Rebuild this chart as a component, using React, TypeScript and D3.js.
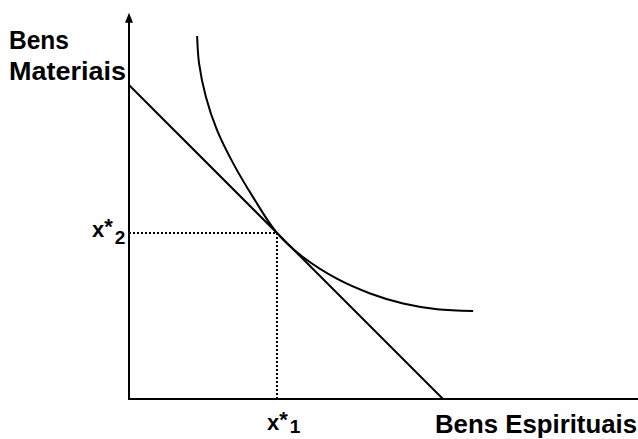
import React, { useEffect, useRef } from 'react';
import * as d3 from 'd3';

// budget line: intercepts on both axes
const budgetLine = [
  { x: 0, y: 10 },
  { x: 10, y: 0 },
];

// indifference curve
const indifference = [
  { x: 2.17, y: 11.56 },
  { x: 2.23, y: 10.7 },
  { x: 2.45, y: 9.62 },
  { x: 2.8, y: 8.57 },
  { x: 3.31, y: 7.52 },
  { x: 3.95, y: 6.43 },
  { x: 4.71, y: 5.29 },
  { x: 5.54, y: 4.52 },
  { x: 6.62, y: 3.83 },
  { x: 7.68, y: 3.36 },
  { x: 8.73, y: 3.04 },
  { x: 9.81, y: 2.86 },
  { x: 10.96, y: 2.8 },
];

// tangency point
const optimum = { x: 4.71, y: 5.29 };

const axisMax = { x: 16.25, y: 12.3 };

const App = () => {
  const ref = useRef<SVGSVGElement | null>(null);

  useEffect(() => {
    if (!ref.current) return;
    const svg = d3.select(ref.current);
    svg.selectAll('*').remove();

    const x = d3.scaleLinear().domain([0, 10]).range([129, 443]);
    const y = d3.scaleLinear().domain([0, 10]).range([399, 85]);

    const line = d3.line<{ x: number; y: number }>()
      .x(d => x(d.x))
      .y(d => y(d.y));

    // axes
    svg.append('line')
      .attr('x1', x(0)).attr('y1', y(0))
      .attr('x2', x(0)).attr('y2', y(axisMax.y) + 8)
      .attr('stroke', '#000').attr('stroke-width', 2);
    svg.append('path')
      .attr('d', `M${x(0)},${y(axisMax.y)} L${x(0) - 4},${y(axisMax.y) + 10} L${x(0) + 4},${y(axisMax.y) + 10} Z`)
      .attr('fill', '#000');
    svg.append('line')
      .attr('x1', x(0) - 1).attr('y1', y(0))
      .attr('x2', x(axisMax.x)).attr('y2', y(0))
      .attr('stroke', '#000').attr('stroke-width', 2);

    // dotted guides to the optimum
    const gx = Math.round(x(optimum.x));
    const gy = Math.round(y(optimum.y));
    svg.append('path')
      .attr('d', `M${x(0)},${gy} H${gx} V${y(0)}`)
      .attr('fill', 'none')
      .attr('stroke', '#000')
      .attr('stroke-width', 2)
      .attr('stroke-dasharray', '2,2')
      .attr('shape-rendering', 'crispEdges');

    // budget line
    svg.append('path')
      .attr('d', line(budgetLine))
      .attr('fill', 'none')
      .attr('stroke', '#000')
      .attr('stroke-width', 2);

    // indifference curve
    svg.append('path')
      .attr('d', line.curve(d3.curveCatmullRom.alpha(0.5))(indifference))
      .attr('fill', 'none')
      .attr('stroke', '#000')
      .attr('stroke-width', 2);

    // labels
    const font = 'Arial, "Liberation Sans", sans-serif';
    const label = (tx: number, ty: number, txt: string, size: number, len?: number) => {
      const t = svg.append('text')
        .attr('x', tx).attr('y', ty)
        .attr('font-family', font)
        .attr('font-weight', 'bold')
        .attr('font-size', size)
        .text(txt);
      if (len) t.attr('textLength', len).attr('lengthAdjust', 'spacingAndGlyphs');
      return t;
    };
    label(9, 49, 'Bens', 26, 60);
    label(9, 80, 'Materiais', 26, 117);
    label(435, 433, 'Bens Espirituais', 26, 202);

    const sub = (tx: number, ty: number, s: string, drop: number) => {
      const t = svg.append('text')
        .attr('x', tx).attr('y', ty)
        .attr('font-family', font)
        .attr('font-weight', 'bold')
        .attr('font-size', 22);
      t.append('tspan').text('x');
      t.append('tspan').attr('dy', -3).text('*');
      t.append('tspan').attr('dy', drop).attr('dx', 2).attr('font-size', 19).text(s);
    };
    sub(92, 237, '2', 10);
    sub(267, 430, '1', 6);
  }, []);

  return (
    <svg
      ref={ref}
      width={638}
      height={439}
      style={{ position: 'absolute', left: 0, top: 0, background: '#fff' }}
    />
  );
};

export default App;
